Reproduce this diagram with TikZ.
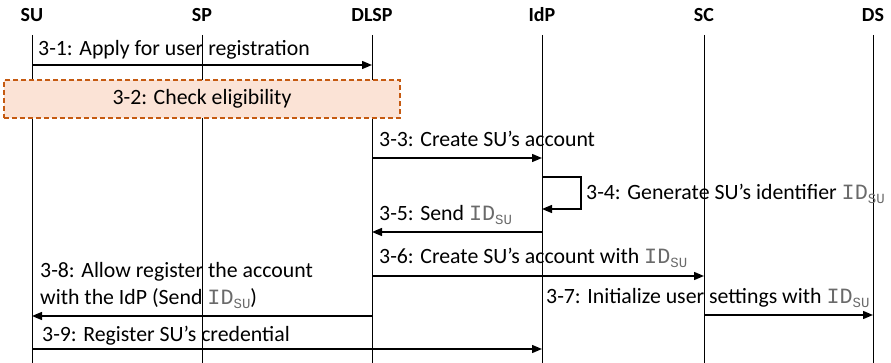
\documentclass[tikz,border=0pt]{standalone}
\usepackage{fontspec}
\setmainfont{Carlito}
\newfontfamily\idfont{Liberation Mono}
\usetikzlibrary{arrows.meta}
\definecolor{boxfill}{HTML}{FBE3D6}
\definecolor{boxline}{HTML}{C55A11}
\definecolor{idgray}{HTML}{6A6A6A}
% identifier ID with subscript SU, set in a typewriter face
\newcommand{\IDsu}{{\color{idgray}\idfont ID\raisebox{-4pt}{\fontsize{14}{14}\selectfont\idfont SU}}}
\tikzset{
  x=1pt, y=-1pt,
  actor/.style={font=\fontsize{20}{24}\selectfont\bfseries, inner sep=0pt},
  lifeline/.style={line width=0.9pt},
  msg/.style={line width=1.4pt, -{Triangle[length=10pt,width=8pt]}},
  lbl/.style={font=\fontsize{21.8}{26}\selectfont, inner sep=0pt, anchor=base west},
  notebox/.style={draw=boxline, fill=boxfill, dashed, dash pattern=on 5pt off 3pt, line width=1.2pt}
}
\begin{document}
\begin{tikzpicture}
\useasboundingbox (0,0) rectangle (891,363);
% actors
\node[actor] (SU)   at (32,15)  {SU};
\node[actor] (SP)   at (202,15) {SP};
\node[actor] (DLSP) at (372,15) {DLSP};
\node[actor] (IdP)  at (542,15) {IdP};
\node[actor] (SC)   at (704,15) {SC};
\node[actor] (DS)   at (873,15) {DS};
% lifeline ends
\coordinate (top) at (0,35);
\coordinate (bot) at (0,363);
\foreach \a in {SU,SP,DLSP,IdP,SC,DS}
  \draw[lifeline] (\a |- top) -- (\a |- bot);
% 3-1
\coordinate (r1) at (0,65);
\draw[msg] (SU |- r1) -- (DLSP |- r1);
\node[lbl] (l1) at (38,56) {3-1: Apply for user registration};
% 3-2 eligibility check box
\node[notebox, minimum width=396pt, minimum height=38pt, inner sep=0pt,
      font=\fontsize{21.8}{26}\selectfont] (chk) at (202,99) {3-2: Check eligibility};
% 3-3
\coordinate (r3) at (0,158);
\draw[msg] (DLSP |- r3) -- (IdP |- r3);
\node[lbl] (l3) at (379,147) {3-3: Create SU's account};
% 3-4 self message
\coordinate (r4a) at (0,177);
\coordinate (r4b) at (0,209);
\coordinate (loopx) at (581,0);
\draw[msg] (IdP |- r4a) -- (loopx |- r4a) -- (loopx |- r4b) -- (IdP |- r4b);
\node[lbl] (l4) at (586,200) {3-4: Generate SU's identifier \IDsu};
% 3-5
\coordinate (r5) at (0,232);
\draw[msg] (IdP |- r5) -- (DLSP |- r5);
\node[lbl] (l5) at (379,221) {3-5: Send \IDsu};
% 3-6
\coordinate (r6) at (0,276);
\draw[msg] (DLSP |- r6) -- (SC |- r6);
\node[lbl] (l6) at (379,264) {3-6: Create SU's account with \IDsu};
% 3-7
\coordinate (r7) at (0,315);
\draw[msg] (SC |- r7) -- (DS |- r7);
\node[lbl] (l7) at (546,303) {3-7: Initialize user settings with \IDsu};
% 3-8
\coordinate (r8) at (0,316);
\draw[msg] (DLSP |- r8) -- (SU |- r8);
\node[lbl] (l8a) at (40,277) {3-8: Allow register the account};
\node[lbl] (l8b) at (40,304) {with the IdP (Send \IDsu)};
% 3-9
\coordinate (r9) at (0,349);
\draw[msg] (SU |- r9) -- (IdP |- r9);
\node[lbl] (l9) at (42,341) {3-9: Register SU's credential};
\end{tikzpicture}
\end{document}
